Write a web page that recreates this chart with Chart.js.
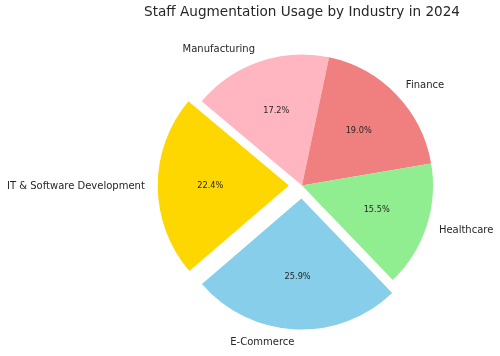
<!DOCTYPE html>
<html><head><meta charset="utf-8">
<script src="https://cdn.jsdelivr.net/npm/chart.js@4"></script>
<style>html,body{margin:0;padding:0;background:#fff}</style>
</head><body>
<canvas id="c" width="500" height="356"></canvas>
<script>
// ---- data (matplotlib order, counter-clockwise from 140°) ----
const categories = ['IT & Software Development', 'E-Commerce', 'Healthcare', 'Finance', 'Manufacturing'];
const usageShare = [22.4, 25.9, 15.5, 19.0, 17.2];
const explode = [0.1, 0.1, 0, 0, 0];
const sliceColors = ['#FFD700', '#87CEEB', '#90EE90', '#F08080', '#FFB6C1'];
const chartTitle = 'Staff Augmentation Usage by Industry in 2024';
const startAngleDeg = 140;

const R = 131;
const FONT = '"DejaVu Sans", "Liberation Sans", sans-serif';
const TEXT = '#262626';

// Chart.js draws clockwise, so reverse to emulate counter-clockwise order
const idx = categories.map((_, i) => i).reverse();
const cjLabels = idx.map(i => categories[i]);
const cjData = idx.map(i => usageShare[i]);
const cjColors = idx.map(i => sliceColors[i]);
const cjOffset = idx.map(i => explode[i] * R * 4); // ArcElement translates by offset/4

const labelPlugin = {
  id: 'pieLabels',
  afterDatasetsDraw(chart) {
    const ctx = chart.ctx;
    const meta = chart.getDatasetMeta(0);
    const vals = chart.data.datasets[0].data;
    const total = vals.reduce((a, b) => a + b, 0);
    ctx.save();
    meta.data.forEach((arc, i) => {
      const mid = (arc.startAngle + arc.endAngle) / 2;
      const r = arc.outerRadius;
      const shift = (arc.options.offset || 0) / 4;
      const c = Math.cos(mid), s = Math.sin(mid);
      const cx = arc.x + c * shift, cy = arc.y + s * shift;
      ctx.fillStyle = TEXT;
      ctx.textBaseline = 'middle';
      ctx.font = '8.2px ' + FONT;
      ctx.textAlign = 'center';
      ctx.fillText((vals[i] / total * 100).toFixed(1) + '%', cx + c * 0.6 * r, cy + s * 0.6 * r);
      ctx.font = '10px ' + FONT;
      ctx.textAlign = c > 0 ? 'left' : 'right';
      ctx.fillText(chart.data.labels[i], cx + c * 1.1 * r, cy + s * 1.1 * r);
    });
    ctx.restore();
  }
};

new Chart(document.getElementById('c'), {
  type: 'pie',
  data: {
    labels: cjLabels,
    datasets: [{
      data: cjData,
      backgroundColor: cjColors,
      borderWidth: 0,
      offset: cjOffset,
      hoverOffset: 0
    }]
  },
  options: {
    responsive: false,
    animation: false,
    devicePixelRatio: 1,
    rotation: 90 - startAngleDeg,
    radius: R,
    layout: { padding: { left: 110, right: 6, top: 0, bottom: 15.3 } },
    plugins: {
      legend: { display: false },
      tooltip: { enabled: false },
      title: {
        display: true,
        text: chartTitle,
        fullSize: false,
        color: TEXT,
        font: { family: FONT, size: 13.6, weight: 'normal' },
        padding: { top: 4, bottom: 10 }
      }
    }
  },
  plugins: [labelPlugin]
});
</script>
</body></html>
